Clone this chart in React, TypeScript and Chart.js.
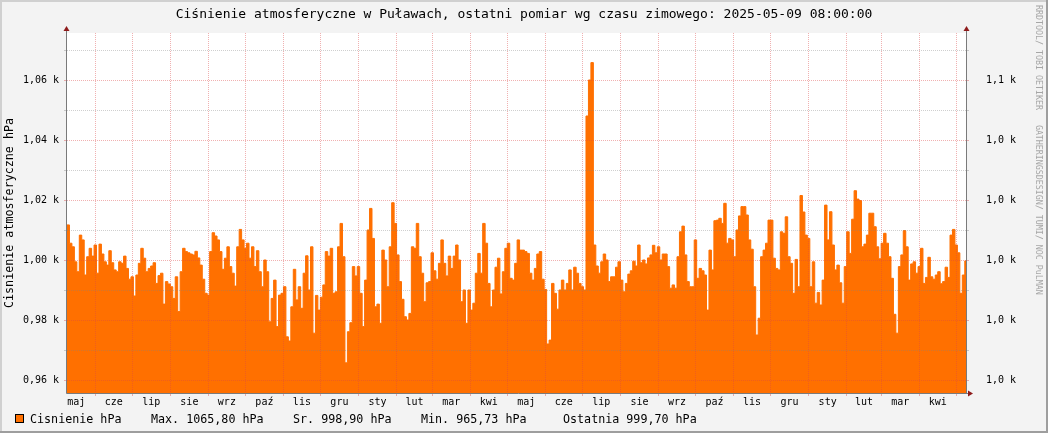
import { useEffect, useRef } from 'react';
import { Chart, registerables } from 'chart.js';

Chart.register(...registerables);

// ---------------- data ----------------
const titleText = 'Ciśnienie atmosferyczne w Puławach, ostatni pomiar wg czasu zimowego: 2025-05-09 08:00:00';
const yAxisTitle = 'Cisnienie atmosferyczne hPa';
const watermark = 'RRDTOOL/ TOBI OETIKER   GATHERINGSDESIGN/ TUMI/ NOC PuLMAN';
const seriesName = 'Cisnienie hPa';
const legendStats = ['Max. 1065,80 hPa', 'Sr. 998,90 hPa', 'Min. 965,73 hPa', 'Ostatnia 999,70 hPa'];

const rangeStart = '2023-05-09';
const rangeEnd = '2025-05-09';
const sampleStepDays = 2;

// pressure [hPa], one value per 2 days starting 2023-05-09
const pressure = [
  1011.7, 1005.6, 1004.4, 999.4, 996.1, 1008.3, 1006.7, 995.0, 1001.1, 1003.9,
  1001.3, 1005.0, 995.6, 1005.3, 1002.0, 999.4, 998.3, 1003.1, 999.1, 996.7,
  996.1, 999.4, 998.9, 1001.3, 997.2, 993.6, 994.4, 988.0, 995.0, 998.9,
  1003.9, 1000.6, 996.1, 997.2, 998.0, 999.1, 992.2, 994.8, 995.6, 985.3,
  992.8, 992.0, 991.1, 987.2, 994.4, 982.8, 996.1, 1003.9, 1002.8, 1002.4,
  1002.0, 1001.7, 1002.9, 1000.7, 998.3, 993.6, 988.9, 988.3, 1002.8, 1009.1,
  1008.0, 1006.7, 1002.8, 996.9, 1000.6, 1004.4, 997.8, 995.6, 991.3, 1004.4,
  1010.2, 1006.7, 1003.9, 1005.6, 1000.6, 1004.4, 997.8, 1003.1, 996.1, 991.1,
  1000.0, 996.1, 979.4, 987.2, 993.3, 977.8, 988.3, 988.9, 991.1, 974.4,
  973.0, 984.4, 996.9, 986.7, 991.1, 983.9, 995.6, 1001.4, 990.0, 1004.4,
  975.6, 988.2, 983.3, 987.6, 991.7, 1002.8, 1001.3, 1003.9, 988.9, 989.4,
  1004.4, 1012.2, 1001.1, 965.73, 976.1, 979.1, 997.8, 994.7, 997.8, 988.9,
  977.8, 993.3, 1010.0, 1017.2, 1007.2, 984.4, 985.3, 978.9, 1003.3, 1000.0,
  991.1, 1004.4, 1019.1, 1012.2, 1001.7, 992.8, 986.9, 981.1, 980.0, 982.2,
  1004.4, 1003.9, 1012.2, 1001.1, 995.6, 986.1, 992.4, 992.8, 1002.4, 996.4,
  993.6, 998.9, 1006.7, 998.9, 994.7, 1001.3, 997.2, 1001.3, 1005.0, 1000.0,
  986.1, 990.0, 978.9, 990.0, 983.3, 985.6, 995.6, 1002.2, 995.6, 1012.2,
  1005.6, 992.2, 984.4, 990.0, 997.6, 1000.6, 988.7, 996.1, 1003.9, 1005.6,
  993.9, 993.3, 998.9, 1006.7, 1003.3, 1003.3, 1002.8, 1002.2, 995.6, 993.3,
  997.2, 1002.0, 1002.8, 993.6, 990.2, 972.0, 973.3, 992.2, 988.9, 983.6,
  990.0, 993.3, 990.0, 992.2, 996.7, 990.0, 997.6, 995.6, 992.2, 991.1,
  990.0, 1048.0, 1060.0, 1065.8, 1005.0, 998.0, 995.6, 999.4, 1002.0, 1000.0,
  992.8, 994.4, 994.4, 997.6, 999.4, 993.3, 989.4, 992.2, 995.3, 996.4,
  999.6, 998.0, 1005.0, 999.1, 1000.0, 998.7, 1000.7, 1001.7, 1004.9, 1002.4,
  1004.4, 1000.0, 1002.0, 1002.0, 997.8, 990.6, 991.7, 990.6, 1001.1, 1009.4,
  1011.3, 1001.7, 992.8, 991.1, 991.1, 1006.7, 993.9, 997.2, 996.4, 995.0,
  983.3, 1003.3, 996.7, 1013.1, 1013.3, 1013.9, 1012.2, 1018.9, 1005.6, 1007.2,
  1006.7, 1001.1, 1010.0, 1014.7, 1017.8, 1017.8, 1015.0, 1006.7, 1003.6, 991.1,
  975.0, 980.6, 1001.1, 1003.3, 1005.6, 1013.3, 1013.3, 1000.6, 997.2, 996.7,
  1009.4, 1008.9, 1014.4, 1001.1, 998.9, 988.9, 1000.2, 991.1, 1021.5, 1016.0,
  1008.3, 1007.2, 991.1, 999.4, 985.6, 989.2, 985.0, 993.3, 1018.3, 1006.7,
  1016.1, 1005.0, 996.7, 998.3, 992.4, 985.6, 997.8, 1009.4, 1002.2, 1013.6,
  1023.1, 1020.3, 1019.8, 1004.4, 1005.3, 1008.3, 1015.6, 1015.6, 1011.1, 1004.4,
  1000.4, 1005.6, 1008.9, 1005.6, 1001.1, 993.9, 981.9, 975.6, 997.8, 1001.7,
  1009.8, 1004.4, 993.3, 998.7, 999.4, 995.6, 997.8, 1003.9, 992.2, 994.2,
  1000.9, 994.4, 993.6, 995.0, 996.1, 992.1, 992.8, 997.6, 994.2, 1008.3,
  1010.2, 1005.0, 1002.4, 988.9, 995.0, 999.7,
];

const monthStarts = [
  '2023-05-01', '2023-06-01', '2023-07-01', '2023-08-01', '2023-09-01', '2023-10-01',
  '2023-11-01', '2023-12-01', '2024-01-01', '2024-02-01', '2024-03-01', '2024-04-01',
  '2024-05-01', '2024-06-01', '2024-07-01', '2024-08-01', '2024-09-01', '2024-10-01',
  '2024-11-01', '2024-12-01', '2025-01-01', '2025-02-01', '2025-03-01', '2025-04-01',
  '2025-05-01',
];
const monthLabels = [
  'maj', 'cze', 'lip', 'sie', 'wrz', 'paź', 'lis', 'gru', 'sty', 'lut', 'mar', 'kwi',
  'maj', 'cze', 'lip', 'sie', 'wrz', 'paź', 'lis', 'gru', 'sty', 'lut', 'mar', 'kwi',
];

const yMin = 955.67;
const yMax = 1075.67;
const yGridValues = [960, 970, 980, 990, 1000, 1010, 1020, 1030, 1040, 1050, 1060, 1070];
const yLabelValues = [960, 980, 1000, 1020, 1040, 1060];
const yLeftLabels = ['0,96 k', '0,98 k', '1,00 k', '1,02 k', '1,04 k', '1,06 k'];
const yRightLabels = ['1,0 k', '1,0 k', '1,0 k', '1,0 k', '1,0 k', '1,1 k'];

// ---------------- derived ----------------
const DAY = 86400000;
const startMs = Date.parse(rangeStart);
const xMax = (Date.parse(rangeEnd) - startMs) / DAY;
const startDays = monthStarts.map((s) => (Date.parse(s) - startMs) / DAY);
const gridDays = startDays.filter((d) => d > 0 && d < xMax);
const labelDays = monthLabels.map((_, k) => (startDays[k] + startDays[k + 1]) / 2);

const points = pressure.map((v, i) => ({ x: i * sampleStepDays, y: v }));
points.push({ x: xMax, y: pressure[pressure.length - 1] });

const ORANGE = '#ff7000';
const MAJOR = 'rgba(220,70,70,0.42)';
const MINOR = 'rgba(130,130,130,0.38)';
const MONO = '"DejaVu Sans Mono", monospace';

const near = (a: number, b: number) => Math.abs(a - b) < 1e-6;

const decor = {
  id: 'decor',
  beforeDraw(chart: any) {
    const { ctx, width, height, chartArea: a } = chart;
    ctx.save();
    ctx.fillStyle = '#f3f3f3';
    ctx.fillRect(0, 0, width, height);
    ctx.fillStyle = '#d0d0d0';
    ctx.fillRect(0, 0, width, 2);
    ctx.fillRect(0, 0, 2, height);
    ctx.fillStyle = '#9e9e9e';
    ctx.fillRect(0, height - 2, width, 2);
    ctx.fillRect(width - 2, 0, 2, height);
    ctx.fillStyle = '#ffffff';
    ctx.fillRect(a.left, a.top, a.right - a.left, a.bottom - a.top);
    ctx.restore();
  },
  afterDraw(chart: any) {
    const { ctx, width, chartArea: a } = chart;
    ctx.save();
    // axes
    ctx.strokeStyle = '#7a7a7a';
    ctx.lineWidth = 1;
    ctx.beginPath();
    ctx.moveTo(a.left - 0.5, a.bottom + 0.5);
    ctx.lineTo(a.left - 0.5, a.top - 3);
    ctx.moveTo(a.right + 0.5, a.bottom + 0.5);
    ctx.lineTo(a.right + 0.5, a.top - 3);
    ctx.moveTo(a.left - 0.5, a.bottom + 0.5);
    ctx.lineTo(a.right + 4, a.bottom + 0.5);
    ctx.stroke();
    // arrows
    ctx.fillStyle = '#8e1b1b';
    const upArrow = (x: number) => {
      ctx.beginPath();
      ctx.moveTo(x - 3, a.top - 2);
      ctx.lineTo(x + 3, a.top - 2);
      ctx.lineTo(x, a.top - 7);
      ctx.closePath();
      ctx.fill();
    };
    upArrow(a.left - 0.5);
    upArrow(a.right + 0.5);
    ctx.beginPath();
    ctx.moveTo(a.right + 2, a.bottom + 0.5 - 3);
    ctx.lineTo(a.right + 2, a.bottom + 0.5 + 3);
    ctx.lineTo(a.right + 7, a.bottom + 0.5);
    ctx.closePath();
    ctx.fill();

    // title
    ctx.fillStyle = '#000';
    ctx.font = `13px ${MONO}`;
    ctx.textAlign = 'center';
    ctx.textBaseline = 'alphabetic';
    ctx.fillText(titleText, width / 2, 18);

    // legend
    ctx.fillStyle = ORANGE;
    ctx.fillRect(15, 414, 9, 9);
    ctx.strokeStyle = '#000';
    ctx.strokeRect(15.5, 414.5, 8, 8);
    ctx.fillStyle = '#000';
    ctx.font = `11.7px ${MONO}`;
    ctx.textAlign = 'left';
    ctx.fillText(seriesName, 30, 423);
    const statX = [151, 293, 421, 563];
    legendStats.forEach((t, k) => ctx.fillText(t, statX[k], 423));

    // watermark
    ctx.translate(1038, 5);
    ctx.rotate(Math.PI / 2);
    ctx.fillStyle = '#a6a6a6';
    ctx.font = `8.3px ${MONO}`;
    ctx.textBaseline = 'middle';
    ctx.fillText(watermark, 0, 0);
    ctx.restore();
  },
};

export default function App() {
  const ref = useRef<HTMLCanvasElement>(null);
  useEffect(() => {
    if (!ref.current) return;
    const yGridColor = (c: any) => {
      const v = c.tick?.value;
      if (v === undefined) return 'rgba(0,0,0,0)';
      return Math.round(v) % 20 === 0 ? MAJOR : MINOR;
    };
    const chart = new Chart(ref.current, {
      type: 'line',
      data: {
        datasets: [
          {
            label: seriesName,
            data: points,
            stepped: true,
            fill: 'start',
            backgroundColor: ORANGE,
            borderColor: ORANGE,
            borderWidth: 1,
            pointRadius: 0,
          },
        ],
      },
      options: {
        animation: false,
        responsive: false,
        devicePixelRatio: 1,
        layout: { padding: { top: 33, bottom: 20, left: 0, right: 0 } },
        plugins: { legend: { display: false }, tooltip: { enabled: false }, title: { display: false } },
        scales: {
          x: {
            type: 'linear',
            min: 0,
            max: xMax,
            position: 'bottom',
            afterBuildTicks: (s: any) => {
              s.ticks = [...gridDays, ...labelDays.filter((d) => d >= 0 && d <= xMax)]
                .sort((p, q) => p - q)
                .map((v) => ({ value: v }));
            },
            afterFit: (s: any) => {
              s.height = 20;
            },
            grid: {
              z: 1,
              color: (c: any) =>
                c.tick && gridDays.some((d) => near(d, c.tick.value)) ? MAJOR : 'rgba(0,0,0,0)',
              tickLength: 3,
            },
            border: { display: false, dash: [1, 1] },
            ticks: {
              autoSkip: false,
              maxRotation: 0,
              minRotation: 0,
              padding: 0,
              color: '#000',
              font: { family: MONO, size: 10 },
              callback: (v: any) => {
                const k = labelDays.findIndex((d) => near(d, Number(v)));
                return k >= 0 ? monthLabels[k] : '';
              },
            },
          },
          y: {
            type: 'linear',
            position: 'left',
            min: yMin,
            max: yMax,
            afterBuildTicks: (s: any) => {
              s.ticks = yGridValues.map((v) => ({ value: v }));
            },
            afterFit: (s: any) => {
              s.width = 67;
            },
            grid: { z: 1, color: yGridColor, tickLength: 3 },
            border: { display: false, dash: [1, 1] },
            title: {
              display: true,
              text: yAxisTitle,
              color: '#000',
              font: { family: MONO, size: 11.7 },
              padding: { top: 3, bottom: 0 },
            },
            ticks: {
              padding: 5,
              color: '#000',
              font: { family: MONO, size: 10 },
              callback: (v: any) => {
                const k = yLabelValues.indexOf(Math.round(Number(v)));
                return k >= 0 ? yLeftLabels[k] : '';
              },
            },
          },
          y2: {
            type: 'linear',
            position: 'right',
            min: yMin,
            max: yMax,
            afterBuildTicks: (s: any) => {
              s.ticks = yGridValues.map((v) => ({ value: v }));
            },
            afterFit: (s: any) => {
              s.width = 82;
            },
            grid: { drawOnChartArea: false, color: yGridColor, tickLength: 3 },
            border: { display: false, dash: [1, 1] },
            ticks: {
              padding: 17,
              color: '#000',
              font: { family: MONO, size: 10 },
              callback: (v: any) => {
                const k = yLabelValues.indexOf(Math.round(Number(v)));
                return k >= 0 ? yRightLabels[k] : '';
              },
            },
          },
        },
      },
      plugins: [decor],
    } as any);
    return () => chart.destroy();
  }, []);

  return (
    <div style={{ position: 'fixed', left: 0, top: 0, width: 1048, height: 433 }}>
      <canvas ref={ref} width={1048} height={433} style={{ display: 'block', width: 1048, height: 433 }} />
    </div>
  );
}
